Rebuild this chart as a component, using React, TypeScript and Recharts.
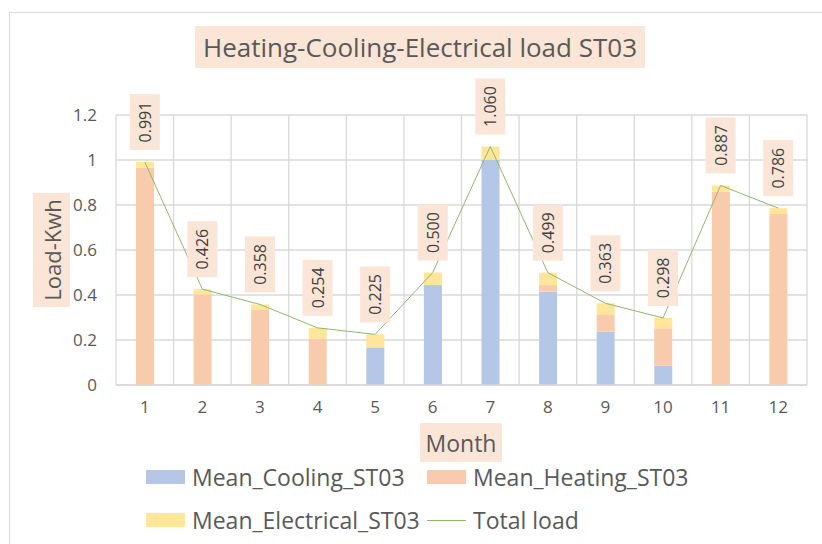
import React from 'react';
import { ComposedChart, Bar, Line, XAxis, YAxis, CartesianGrid, LabelList, Legend } from 'recharts';

const months = ['1', '2', '3', '4', '5', '6', '7', '8', '9', '10', '11', '12'];
const cooling = [0, 0, 0, 0, 0.167, 0.444, 1.0, 0.415, 0.237, 0.086, 0, 0];
const heating = [0.966, 0.403, 0.333, 0.207, 0, 0, 0, 0.029, 0.077, 0.166, 0.859, 0.76];
const electrical = [0.025, 0.023, 0.025, 0.047, 0.058, 0.056, 0.06, 0.055, 0.049, 0.046, 0.028, 0.026];
const totalLoad = [0.991, 0.426, 0.358, 0.254, 0.225, 0.5, 1.06, 0.499, 0.363, 0.298, 0.887, 0.786];
const yTicks = [0, 0.2, 0.4, 0.6, 0.8, 1, 1.2];

const data = months.map((m, i) => ({
  month: m,
  cooling: cooling[i],
  heating: heating[i],
  electrical: electrical[i],
  total: totalLoad[i],
}));

const FONT = '"Open Sans", sans-serif';
const TEXT = '#595959';
const BOX = '#fbe5d6';
const C_COOL = '#b4c7e7';
const C_HEAT = '#f8cbad';
const C_ELEC = '#ffe699';
const C_LINE = '#8fb870';

const ValueLabel = (props: any) => {
  const { x, y, value } = props;
  const w = 30;
  const h = 56;
  const bottom = y - 12;
  const cy = bottom - h / 2;
  return (
    <g>
      <rect x={x - w / 2} y={bottom - h} width={w} height={h} fill={BOX} />
      <text
        x={x}
        y={cy}
        transform={`rotate(-90 ${x} ${cy})`}
        textAnchor="middle"
        dominantBaseline="central"
        fontSize={16}
        fontFamily={FONT}
        fill="#404040"
      >
        {Number(value).toFixed(3)}
      </text>
    </g>
  );
};

const LegendContent = () => {
  const items = [
    { name: 'Mean_Cooling_ST03', color: C_COOL, type: 'rect' },
    { name: 'Mean_Heating_ST03', color: C_HEAT, type: 'rect' },
    { name: 'Mean_Electrical_ST03', color: C_ELEC, type: 'rect' },
    { name: 'Total load', color: C_LINE, type: 'line' },
  ];
  const cols = [146, 427];
  const rows = [477, 520];
  return (
    <div style={{ position: 'relative', width: 822, height: 0, overflow: 'visible' }}>
      {items.map((it, i) => {
        const left = cols[i % 2];
        const cy = rows[Math.floor(i / 2)];
        return (
          <div key={it.name} style={{ position: 'absolute', left, top: cy - 16, height: 32, display: 'flex', alignItems: 'center', whiteSpace: 'nowrap' }}>
            {it.type === 'rect' ? (
              <div style={{ width: 39, height: 14, background: it.color }} />
            ) : (
              <div style={{ width: 39, height: 14, display: 'flex', alignItems: 'center' }}>
                <div style={{ width: 39, height: 1, background: it.color }} />
              </div>
            )}
            <span style={{ marginLeft: 7, fontSize: 23, fontFamily: FONT, color: TEXT }}>{it.name}</span>
          </div>
        );
      })}
    </div>
  );
};

export default function App() {
  const left = 116;
  const right = 15;
  const top = 115;
  const bottom = 129;
  return (
    <div style={{ position: 'absolute', left: 0, top: 0, width: 822, height: 544, overflow: 'hidden', background: '#fff' }}>
      <div style={{ position: 'absolute', left: 9, top: 12, width: 900, height: 600, borderTop: '1px solid #d9d9d9', borderLeft: '1px solid #d9d9d9' }} />
      <div style={{ position: 'absolute', left: 195, top: 26, width: 450, height: 42, background: BOX, display: 'flex', alignItems: 'center', justifyContent: 'center', fontFamily: FONT, fontSize: 26, color: TEXT, whiteSpace: 'nowrap' }}>
        Heating-Cooling-Electrical load ST03
      </div>
      <div style={{ position: 'absolute', left: 33, top: 193, width: 37, height: 114, background: BOX }} />
      <div style={{ position: 'absolute', left: 51.5, top: 250, transform: 'translate(-50%, -50%) rotate(-90deg)', fontFamily: FONT, fontSize: 22, color: TEXT, whiteSpace: 'nowrap' }}>
        Load-Kwh
      </div>
      <div style={{ position: 'absolute', left: 420, top: 423, width: 82, height: 39, background: BOX, display: 'flex', alignItems: 'center', justifyContent: 'center', fontFamily: FONT, fontSize: 23, color: TEXT }}>
        Month
      </div>
      <div style={{ position: 'absolute', left: 0, top: 0 }}>
        <ComposedChart width={822} height={544} data={data} margin={{ left: 0, right, top, bottom }}>
          <CartesianGrid
            stroke="#d9d9d9"
            strokeWidth={1.3}
            verticalCoordinatesGenerator={({ offset }: any) =>
              months.map((_, i) => offset.left + (i * offset.width) / months.length).concat([offset.left + offset.width])
            }
          />
          <XAxis
            dataKey="month"
            axisLine={{ stroke: '#d9d9d9', strokeWidth: 1.3 }}
            tickLine={false}
            tickSize={0}
            tickMargin={16}
            tick={{ fontSize: 17, fontFamily: FONT, fill: TEXT }}
            interval={0}
          />
          <YAxis
            width={left}
            domain={[0, 1.2]}
            ticks={yTicks}
            axisLine={false}
            tickLine={false}
            tickSize={0}
            tickMargin={19}
            tick={{ fontSize: 17, fontFamily: FONT, fill: TEXT }}
            tickFormatter={(v: number) => String(Math.round(v * 10) / 10)}
          />
          <Bar dataKey="cooling" stackId="a" fill={C_COOL} barSize={18} isAnimationActive={false} name="Mean_Cooling_ST03" />
          <Bar dataKey="heating" stackId="a" fill={C_HEAT} barSize={18} isAnimationActive={false} name="Mean_Heating_ST03" />
          <Bar dataKey="electrical" stackId="a" fill={C_ELEC} barSize={18} isAnimationActive={false} name="Mean_Electrical_ST03" />
          <Line dataKey="total" stroke={C_LINE} strokeWidth={1} dot={false} isAnimationActive={false} name="Total load">
            <LabelList dataKey="total" content={ValueLabel} />
          </Line>
          <Legend content={LegendContent} height={0} wrapperStyle={{ position: 'absolute', left: 0, top: 0, width: 822, height: 0 }} />
        </ComposedChart>
      </div>
    </div>
  );
}
